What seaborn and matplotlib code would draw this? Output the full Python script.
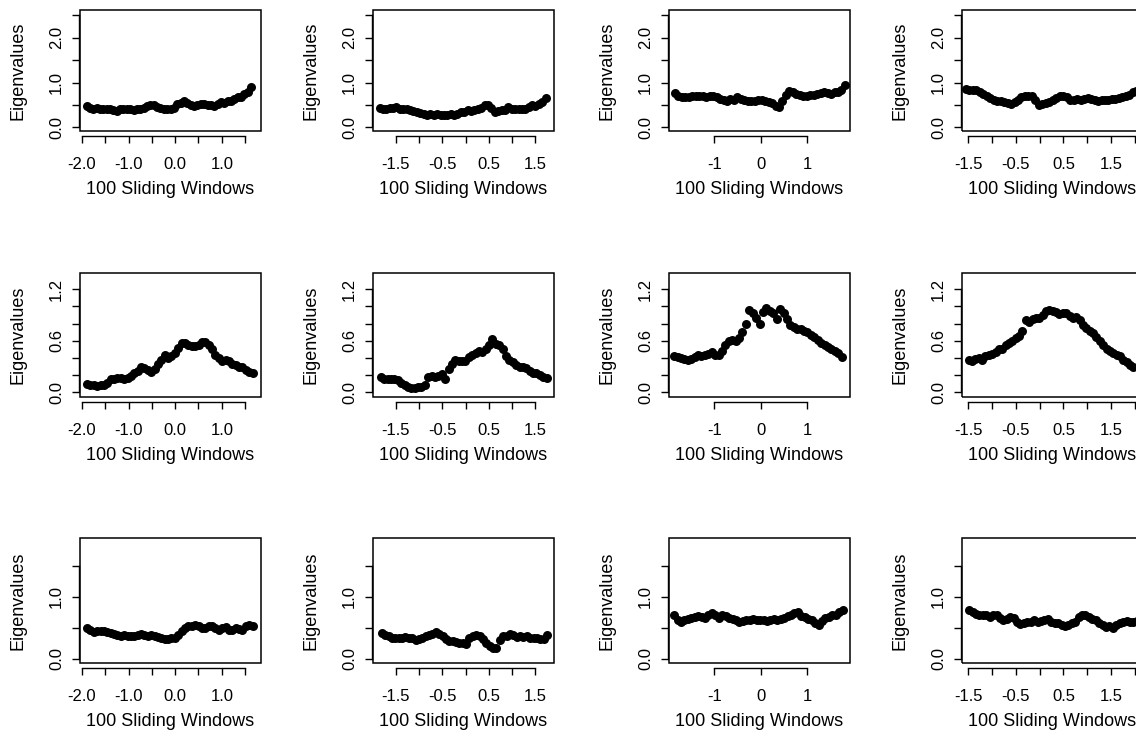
import numpy as np
import pandas as pd
import matplotlib
matplotlib.use("Agg")
import matplotlib.pyplot as plt
import seaborn as sns
from matplotlib.patches import Rectangle

sns.set_style("white")
plt.rcParams['font.family'] = ['Liberation Sans', 'DejaVu Sans']

# ---------------- data (eigenvalues over 100 sliding windows) ----------------
x_label = "100 Sliding Windows"
y_label = "Eigenvalues"

# first / last standardized window position for each panel (row, col)
x_start = [[-1.90, -1.85, -1.85, -1.55],
           [-1.89, -1.82, -1.87, -1.49],
           [-1.89, -1.80, -1.87, -1.48]]
x_end = [[1.63, 1.72, 1.82, 2.03],
         [1.66, 1.74, 1.75, 1.97],
         [1.66, 1.75, 1.77, 2.04]]

y_r1c1 = [0.47, 0.44, 0.42, 0.43, 0.41, 0.40, 0.42, 0.41, 0.39, 0.37, 0.40, 0.41, 0.40, 0.42, 0.38,
          0.40, 0.41, 0.43, 0.47, 0.50, 0.49, 0.45, 0.43, 0.41, 0.42, 0.41, 0.44, 0.52, 0.55, 0.58,
          0.55, 0.50, 0.47, 0.50, 0.53, 0.52, 0.50, 0.49, 0.48, 0.52, 0.57, 0.55, 0.58, 0.60, 0.64,
          0.67, 0.68, 0.74, 0.80, 0.90]
y_r1c2 = [0.43, 0.42, 0.42, 0.43, 0.44, 0.46, 0.42, 0.40, 0.40, 0.38, 0.37, 0.34, 0.32, 0.30, 0.28,
          0.29, 0.28, 0.29, 0.27, 0.28, 0.27, 0.29, 0.28, 0.31, 0.34, 0.35, 0.38, 0.37, 0.39, 0.40,
          0.44, 0.50, 0.49, 0.43, 0.34, 0.37, 0.38, 0.39, 0.45, 0.42, 0.42, 0.42, 0.41, 0.42, 0.45,
          0.49, 0.48, 0.53, 0.57, 0.65]
y_r1c3 = [0.76, 0.70, 0.67, 0.68, 0.68, 0.70, 0.69, 0.71, 0.70, 0.68, 0.70, 0.69, 0.67, 0.64, 0.61,
          0.60, 0.63, 0.62, 0.67, 0.64, 0.62, 0.58, 0.60, 0.58, 0.62, 0.61, 0.60, 0.57, 0.54, 0.48,
          0.46, 0.58, 0.72, 0.81, 0.78, 0.74, 0.72, 0.70, 0.70, 0.72, 0.73, 0.75, 0.77, 0.80, 0.76,
          0.74, 0.79, 0.80, 0.84, 0.94]
y_r1c4 = [0.86, 0.84, 0.84, 0.83, 0.80, 0.74, 0.70, 0.66, 0.62, 0.60, 0.58, 0.56, 0.54, 0.53, 0.56,
          0.62, 0.67, 0.70, 0.70, 0.69, 0.62, 0.50, 0.52, 0.55, 0.57, 0.62, 0.65, 0.70, 0.70, 0.68,
          0.62, 0.62, 0.63, 0.62, 0.63, 0.66, 0.63, 0.62, 0.60, 0.61, 0.62, 0.62, 0.63, 0.64, 0.66,
          0.68, 0.70, 0.72, 0.78, 0.82]

y_r2c1 = [0.10, 0.09, 0.08, 0.07, 0.08, 0.08, 0.11, 0.15, 0.16, 0.17, 0.17, 0.16, 0.17, 0.19, 0.22,
          0.25, 0.30, 0.28, 0.26, 0.24, 0.27, 0.33, 0.38, 0.43, 0.40, 0.42, 0.46, 0.52, 0.57, 0.58,
          0.55, 0.54, 0.54, 0.55, 0.59, 0.59, 0.55, 0.50, 0.44, 0.40, 0.36, 0.38, 0.36, 0.33, 0.32,
          0.30, 0.30, 0.26, 0.24, 0.22]
y_r2c2 = [0.18, 0.16, 0.15, 0.15, 0.15, 0.14, 0.11, 0.08, 0.06, 0.05, 0.05, 0.06, 0.06, 0.09, 0.18,
          0.19, 0.18, 0.19, 0.21, 0.16, 0.27, 0.33, 0.38, 0.36, 0.37, 0.37, 0.41, 0.44, 0.46, 0.48,
          0.47, 0.50, 0.55, 0.62, 0.56, 0.55, 0.50, 0.42, 0.38, 0.35, 0.32, 0.29, 0.29, 0.28, 0.25,
          0.23, 0.22, 0.20, 0.18, 0.17]
y_r2c3 = [0.42, 0.41, 0.40, 0.39, 0.38, 0.39, 0.41, 0.43, 0.42, 0.43, 0.45, 0.47, 0.43, 0.44, 0.48,
          0.55, 0.60, 0.61, 0.60, 0.63, 0.70, 0.80, 0.96, 0.92, 0.87, 0.80, 0.94, 0.98, 0.95, 0.92,
          0.86, 0.97, 0.92, 0.85, 0.78, 0.76, 0.74, 0.74, 0.72, 0.70, 0.67, 0.64, 0.61, 0.58, 0.55,
          0.53, 0.50, 0.48, 0.46, 0.41]
y_r2c4 = [0.38, 0.37, 0.39, 0.40, 0.38, 0.42, 0.44, 0.45, 0.47, 0.50, 0.51, 0.55, 0.58, 0.60, 0.63,
          0.66, 0.72, 0.84, 0.82, 0.86, 0.87, 0.87, 0.90, 0.95, 0.96, 0.95, 0.94, 0.91, 0.93, 0.92,
          0.89, 0.87, 0.88, 0.84, 0.78, 0.75, 0.72, 0.69, 0.64, 0.60, 0.55, 0.51, 0.48, 0.46, 0.44,
          0.42, 0.38, 0.35, 0.32, 0.29]

y_r3c1 = [0.49, 0.46, 0.43, 0.44, 0.45, 0.44, 0.43, 0.41, 0.40, 0.38, 0.37, 0.38, 0.37, 0.37, 0.36,
          0.38, 0.40, 0.38, 0.37, 0.38, 0.36, 0.35, 0.34, 0.32, 0.31, 0.33, 0.34, 0.38, 0.44, 0.49,
          0.52, 0.53, 0.54, 0.52, 0.50, 0.49, 0.52, 0.53, 0.49, 0.47, 0.50, 0.51, 0.46, 0.47, 0.50,
          0.48, 0.47, 0.53, 0.54, 0.52]
y_r3c2 = [0.41, 0.38, 0.36, 0.34, 0.33, 0.34, 0.33, 0.35, 0.34, 0.33, 0.30, 0.31, 0.33, 0.36, 0.38,
          0.40, 0.43, 0.40, 0.36, 0.32, 0.29, 0.28, 0.27, 0.26, 0.26, 0.24, 0.33, 0.37, 0.38, 0.36,
          0.31, 0.26, 0.21, 0.17, 0.17, 0.30, 0.36, 0.37, 0.40, 0.39, 0.35, 0.36, 0.35, 0.36, 0.34,
          0.33, 0.34, 0.32, 0.31, 0.38]
y_r3c3 = [0.70, 0.63, 0.59, 0.62, 0.64, 0.66, 0.68, 0.69, 0.67, 0.66, 0.70, 0.74, 0.70, 0.66, 0.70,
          0.69, 0.66, 0.64, 0.63, 0.59, 0.61, 0.62, 0.63, 0.64, 0.62, 0.62, 0.62, 0.61, 0.62, 0.64,
          0.63, 0.64, 0.66, 0.69, 0.71, 0.73, 0.75, 0.69, 0.67, 0.64, 0.62, 0.57, 0.55, 0.61, 0.65,
          0.68, 0.70, 0.71, 0.75, 0.78]
y_r3c4 = [0.78, 0.76, 0.72, 0.71, 0.70, 0.70, 0.68, 0.70, 0.71, 0.66, 0.62, 0.64, 0.67, 0.66, 0.60,
          0.56, 0.58, 0.60, 0.59, 0.62, 0.60, 0.61, 0.63, 0.64, 0.60, 0.58, 0.57, 0.55, 0.52, 0.54,
          0.57, 0.60, 0.68, 0.71, 0.70, 0.67, 0.64, 0.62, 0.58, 0.54, 0.51, 0.52, 0.50, 0.55, 0.58,
          0.59, 0.61, 0.60, 0.60, 0.61]

series = [[y_r1c1, y_r1c2, y_r1c3, y_r1c4],
          [y_r2c1, y_r2c2, y_r2c3, y_r2c4],
          [y_r3c1, y_r3c2, y_r3c3, y_r3c4]]

# axis scales per row / column
row_ylim = [(-0.08, 2.62), (-0.054, 1.39), (-0.07, 1.95)]
row_yticks = [[0.0, 0.5, 1.0, 1.5, 2.0, 2.5],
              [0.0, 0.2, 0.4, 0.6, 0.8, 1.0, 1.2],
              [0.0, 0.5, 1.0, 1.5]]
row_yticklabels = [["0.0", "", "1.0", "", "2.0", ""],
                   ["0.0", "", "", "0.6", "", "", "1.2"],
                   ["0.0", "", "1.0", ""]]
col_xlim = [(-2.04, 1.84), (-1.99, 1.90), (-1.98, 1.93), (-1.63, 2.17)]
col_xticks = [[-2.0, -1.5, -1.0, -0.5, 0.0, 0.5, 1.0, 1.5],
              [-1.5, -1.0, -0.5, 0.0, 0.5, 1.0, 1.5],
              [-1, 0, 1],
              [-1.5, -1.0, -0.5, 0.0, 0.5, 1.0, 1.5, 2.0]]
col_xticklabels = [["-2.0", "", "-1.0", "", "0.0", "", "1.0", ""],
                   ["-1.5", "", "-0.5", "", "0.5", "", "1.5"],
                   ["-1", "0", "1"],
                   ["-1.5", "", "-0.5", "", "0.5", "", "1.5", ""]]

# ---------------- layout ----------------
W, H = 1136, 732
fig = plt.figure(figsize=(W / 100, H / 100), dpi=100)
fig.patch.set_facecolor("white")

col_left = [80, 373, 669, 962]
box_w = 181
row_top = [10, 273, 538]
row_h = [121, 124, 125]

for r in range(3):
    for c in range(4):
        left = col_left[c] / W
        bottom = 1 - (row_top[r] + row_h[r]) / H
        ax = fig.add_axes([left, bottom, box_w / W, row_h[r] / H])
        y = series[r][c]
        x = np.linspace(x_start[r][c], x_end[r][c], len(y))
        df = pd.DataFrame({"window": x, "eigen": y})
        sns.scatterplot(data=df, x="window", y="eigen", ax=ax, color="black",
                        s=42, linewidth=0, edgecolor="black", zorder=3, clip_on=False)
        ax.set_xlim(*col_xlim[c])
        ax.set_ylim(*row_ylim[r])
        ax.set_facecolor("white")

        # S-style detached axes + box
        for side in ["top", "right"]:
            ax.spines[side].set_visible(False)
        ax.spines["left"].set_position(("outward", 1))
        ax.spines["bottom"].set_position(("outward", 3.6))
        for side in ["left", "bottom"]:
            ax.spines[side].set_linewidth(1.0)
            ax.spines[side].set_color("black")
        ax.spines["bottom"].set_bounds(col_xticks[c][0], col_xticks[c][-1])
        ax.spines["left"].set_bounds(row_yticks[r][0], row_yticks[r][-1])
        ax.add_patch(Rectangle((0, 0), 1, 1, transform=ax.transAxes, fill=False,
                               edgecolor="black", linewidth=1.1, clip_on=False, zorder=4))

        ax.set_xticks(col_xticks[c])
        ax.set_xticklabels(col_xticklabels[c])
        ax.set_yticks(row_yticks[r])
        ax.set_yticklabels(row_yticklabels[r])
        ax.tick_params(axis="both", direction="out", length=5, width=1.0, color="black",
                       labelsize=12, labelcolor="black", bottom=True, left=True,
                       top=False, right=False)
        ax.tick_params(axis="x", pad=10)
        ax.tick_params(axis="y", labelrotation=90, pad=5.5)
        for lab in ax.get_yticklabels():
            lab.set_va("center")

        ax.set_xlabel(x_label, fontsize=13, color="black")
        ax.set_ylabel(y_label, fontsize=13, color="black")
        ax.xaxis.label.set_va("center")
        ax.yaxis.label.set_va("center")
        ax.xaxis.set_label_coords(0.5, -58 / row_h[r])
        ax.yaxis.set_label_coords(-62 / box_w, 0.5)

fig.savefig("out.png", dpi=100)
